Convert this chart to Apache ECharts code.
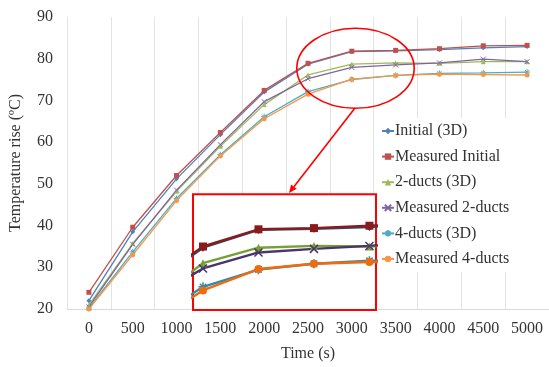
<!DOCTYPE html>
<html>
<head>
<meta charset="utf-8">
<script src="https://cdn.jsdelivr.net/npm/echarts@6/dist/echarts.min.js"></script>
<style>
  html, body { margin: 0; padding: 0; background: #fff; }
  #chart { width: 549px; height: 367px; }
</style>
</head>
<body>
<div id="chart"></div>
<script>
// Time steps (s)
const times = [0, 500, 1000, 1500, 2000, 2500, 3000, 3500, 4000, 4500, 5000];
const timeLabels = times.map(String);

// Temperature rise (°C) per configuration
const initial3D       = [22.0, 38.5, 51.2, 61.8, 72.0, 78.7, 81.7, 81.9, 82.2, 82.6, 82.9];
const measuredInitial = [24.0, 39.6, 52.0, 62.3, 72.4, 78.9, 81.8, 82.0, 82.4, 83.1, 83.2];
const ducts2_3D       = [21.0, 35.7, 48.2, 59.0, 69.0, 76.1, 78.7, 79.0, 78.9, 79.3, 79.3];
const measured2ducts  = [20.5, 35.5, 48.5, 59.4, 69.7, 75.2, 77.9, 78.5, 79.0, 79.9, 79.3];
const ducts4_3D       = [20.2, 33.7, 46.5, 57.0, 66.1, 72.1, 75.0, 76.0, 76.5, 76.6, 76.8];
const measured4ducts  = [20.0, 33.0, 46.0, 56.7, 65.6, 71.5, 75.1, 76.0, 76.3, 76.2, 76.1];

const seriesNames = ['Initial (3D)', 'Measured Initial', '2-ducts (3D)',
                     'Measured 2-ducts', '4-ducts (3D)', 'Measured 4-ducts'];
const seriesValues = [initial3D, measuredInitial, ducts2_3D, measured2ducts, ducts4_3D, measured4ducts];

// Value-axis ticks
const yTicksMin = 20, yTicksMax = 90, yTickStep = 10;

// Zoomed detail window (time and temperature ranges) and its vertical guides
const zoomTimeRange = [2410, 4059];
const zoomTempRange = [68.2, 87.7];
const zoomGuideTimes = [2750, 3250, 3750];

const mainColors  = ['#4F81BD', '#C0504D', '#9BBB59', '#8064A2', '#4BACC6', '#F79646'];
const zoomColors  = ['#2C4D75', '#8B1A1A', '#77A032', '#4A3470', '#2E8CA8', '#F06A10'];
const xShape = 'path://M0,0L10,10M10,0L0,10';
const starShape = 'path://M5,0L5,10M0,5L10,5M1.5,1.5L8.5,8.5M8.5,1.5L1.5,8.5';
const symbols = ['diamond', 'rect', 'triangle', xShape, starShape, 'circle'];
const symbolSizes = [5, 5, 5, 5, 6, 5];

const serif = 'Liberation Serif';
const textColor = '#333';

const mainSeries = seriesNames.map((name, i) => ({
  name: name,
  type: 'line',
  xAxisIndex: 0,
  yAxisIndex: 0,
  data: seriesValues[i],
  symbol: symbols[i],
  symbolSize: symbolSizes[i],
  showSymbol: true,
  lineStyle: { color: mainColors[i], width: 1.3 },
  itemStyle: { color: mainColors[i], borderColor: mainColors[i], borderWidth: (i === 3 || i === 4) ? 1 : 0 },
  emphasis: { disabled: true },
  animation: false,
  z: 3
}));

const zoomSeries = seriesNames.map((name, i) => {
  const s = {
    name: name + ' detail',
    type: 'line',
    xAxisIndex: 1,
    yAxisIndex: 1,
    data: times.map((t, k) => [t, seriesValues[i][k]]),
    symbol: symbols[i],
    symbolSize: symbolSizes[i] + 3,
    showSymbol: true,
    clip: true,
    lineStyle: { color: zoomColors[i], width: 2.4 },
    itemStyle: { color: zoomColors[i], borderColor: zoomColors[i], borderWidth: (i === 3 || i === 4) ? 1.5 : 0 },
    emphasis: { disabled: true },
    animation: false,
    z: 12
  };
  if (i === 0) {
    s.markLine = {
      silent: true,
      symbol: 'none',
      label: { show: false },
      lineStyle: { color: '#d2d2d2', type: 'solid', width: 1 },
      data: zoomGuideTimes.map(t => ({ xAxis: t })),
      animation: false
    };
  }
  return s;
});

// Arrow from the highlighted region to the detail window
const arrowFrom = [355, 108], arrowTo = [289, 193];
const adx = arrowTo[0] - arrowFrom[0], ady = arrowTo[1] - arrowFrom[1];
const alen = Math.hypot(adx, ady), ux = adx / alen, uy = ady / alen;
const headLen = 8, headHalf = 3.5;
const baseX = arrowTo[0] - ux * headLen, baseY = arrowTo[1] - uy * headLen;
const head = [
  [arrowTo[0], arrowTo[1]],
  [baseX + (-uy) * headHalf, baseY + ux * headHalf],
  [baseX - (-uy) * headHalf, baseY - ux * headHalf]
];

const chart = echarts.init(document.getElementById('chart'), null, { renderer: 'canvas' });
chart.setOption({
  animation: false,
  backgroundColor: '#fff',
  textStyle: { fontFamily: serif },
  grid: [
    { left: 64, right: -3, top: 17, bottom: 53, containLabel: false },
    { left: 193, top: 194.3, width: 183, height: 115.7, show: true,
      backgroundColor: '#fff', borderColor: '#FF0000', borderWidth: 2, z: 10 }
  ],
  xAxis: [
    {
      gridIndex: 0,
      type: 'category',
      data: timeLabels,
      boundaryGap: true,
      name: 'Time (s)',
      nameLocation: 'middle',
      nameGap: 37,
      nameTextStyle: { fontFamily: serif, fontSize: 16, color: textColor },
      axisLine: { show: true, lineStyle: { color: '#d9d9d9', width: 1 } },
      axisTick: { show: false },
      axisLabel: { fontFamily: serif, fontSize: 16, color: textColor, margin: 12, interval: 0 },
      splitLine: { show: true, interval: 0, lineStyle: { color: '#e3e3e3', width: 1 } }
    },
    {
      gridIndex: 1,
      type: 'value',
      min: zoomTimeRange[0],
      max: zoomTimeRange[1],
      show: false,
      splitLine: { show: false }
    }
  ],
  yAxis: [
    {
      gridIndex: 0,
      type: 'value',
      min: yTicksMin,
      max: yTicksMax,
      interval: yTickStep,
      name: 'Temperature rise (ºC)',
      nameLocation: 'middle',
      nameGap: 43,
      nameRotate: 90,
      nameTextStyle: { fontFamily: serif, fontSize: 16, color: textColor },
      axisLine: { show: false },
      axisTick: { show: false },
      axisLabel: { fontFamily: serif, fontSize: 16, color: textColor, margin: 14 },
      splitLine: { show: false }
    },
    {
      gridIndex: 1,
      type: 'value',
      min: zoomTempRange[0],
      max: zoomTempRange[1],
      show: false,
      splitLine: { show: false }
    }
  ],
  legend: {
    data: seriesNames,
    orient: 'vertical',
    left: 376,
    top: 118,
    itemWidth: 12,
    itemHeight: 8,
    itemGap: 9.6,
    padding: [5, 40, 5, 5],
    backgroundColor: '#fff',
    textStyle: { fontFamily: serif, fontSize: 16, lineHeight: 16, color: textColor, padding: [0, 0, 0, -4] },
    z: 8
  },
  series: mainSeries.concat(zoomSeries),
  graphic: [
    {
      type: 'ellipse',
      shape: { cx: 355.5, cy: 68.3, rx: 58.7, ry: 40 },
      style: { fill: 'none', stroke: '#FF0000', lineWidth: 1.6 },
      z: 20, silent: true
    },
    {
      type: 'line',
      shape: { x1: arrowFrom[0], y1: arrowFrom[1], x2: baseX, y2: baseY },
      style: { stroke: '#FF0000', lineWidth: 1.6 },
      z: 20, silent: true
    },
    {
      type: 'polygon',
      shape: { points: head },
      style: { fill: '#FF0000' },
      z: 20, silent: true
    }
  ]
});
</script>
</body>
</html>
